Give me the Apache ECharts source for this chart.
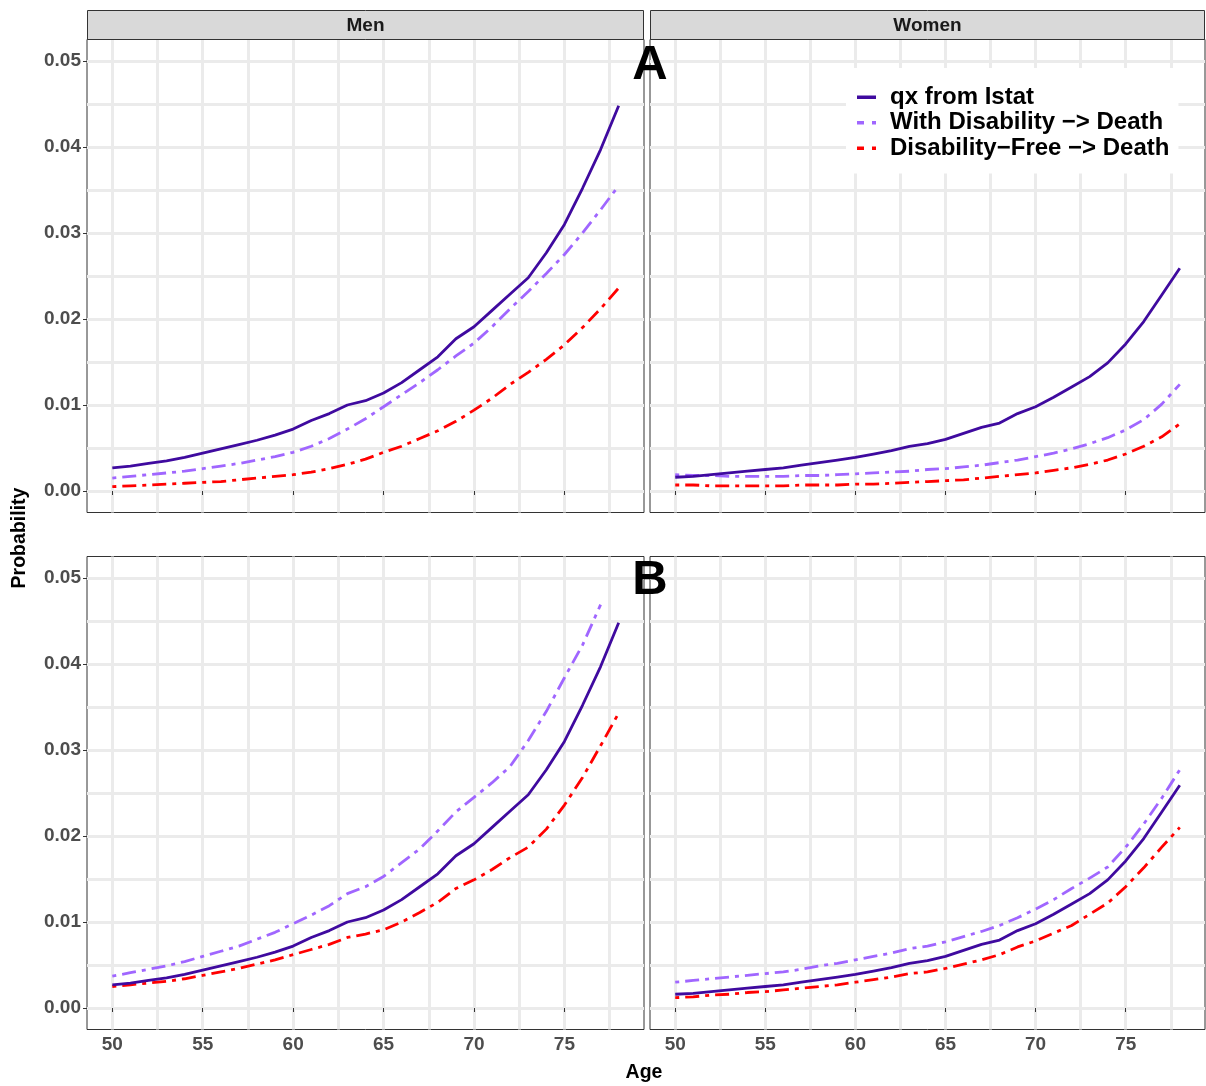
<!DOCTYPE html>
<html>
<head>
<meta charset="utf-8">
<script src="https://cdn.jsdelivr.net/npm/echarts@6/dist/echarts.min.js"></script>
<style>
  html, body { margin: 0; padding: 0; background: #ffffff; }
  #chart { width: 1206px; height: 1086px; }
</style>
</head>
<body>
<div id="chart"></div>
<script>
// Ages covered by the curves
const ages = [50, 51, 52, 53, 54, 55, 56, 57, 58, 59, 60, 61, 62, 63, 64, 65, 66, 67, 68, 69, 70, 71, 72, 73, 74, 75, 76, 77, 78];

// Istat death probabilities (same reference curve in both rows)
const qxMen = [0.0027, 0.0029, 0.0032, 0.0035, 0.0039, 0.0044, 0.0049, 0.0054, 0.0059, 0.0065, 0.0072, 0.0082, 0.0090, 0.0100, 0.0105, 0.0114, 0.0126, 0.0141, 0.0156, 0.0177, 0.0191, 0.0210, 0.0229, 0.0248, 0.0277, 0.0310, 0.0352, 0.0397, 0.0448];
const qxWomen = [0.0016, 0.0017, 0.0019, 0.0021, 0.0023, 0.0025, 0.0027, 0.0030, 0.0033, 0.0036, 0.0039, 0.0043, 0.0047, 0.0052, 0.0055, 0.0060, 0.0067, 0.0074, 0.0079, 0.0090, 0.0098, 0.0109, 0.0121, 0.0133, 0.0149, 0.0171, 0.0197, 0.0228, 0.0259];

// Row A transition probabilities
const withDisMenA = [0.0015, 0.0017, 0.0019, 0.0021, 0.0023, 0.0026, 0.0029, 0.0032, 0.0036, 0.0040, 0.0045, 0.0052, 0.0061, 0.0072, 0.0084, 0.0098, 0.0112, 0.0126, 0.0141, 0.0157, 0.0172, 0.0191, 0.0212, 0.0232, 0.0253, 0.0275, 0.0300, 0.0327, 0.0355];
const disFreeMenA = [0.0005, 0.0006, 0.0007, 0.0008, 0.0009, 0.0010, 0.0011, 0.0013, 0.0015, 0.0017, 0.0019, 0.0022, 0.0026, 0.0031, 0.0037, 0.0045, 0.0052, 0.0061, 0.0070, 0.0081, 0.0094, 0.0108, 0.0124, 0.0138, 0.0153, 0.0170, 0.0190, 0.0212, 0.0236];
const withDisWomenA = [0.0019, 0.0018, 0.0018, 0.0017, 0.0017, 0.0017, 0.0017, 0.0018, 0.0018, 0.0019, 0.0020, 0.0021, 0.0022, 0.0023, 0.0025, 0.0026, 0.0028, 0.0030, 0.0033, 0.0036, 0.0040, 0.0044, 0.0049, 0.0055, 0.0062, 0.0071, 0.0083, 0.0101, 0.0124];
const disFreeWomenA = [0.0007, 0.0007, 0.0006, 0.0006, 0.0006, 0.0006, 0.0006, 0.0007, 0.0007, 0.0007, 0.0008, 0.0008, 0.0009, 0.0010, 0.0011, 0.0012, 0.0013, 0.0015, 0.0017, 0.0019, 0.0021, 0.0024, 0.0027, 0.0031, 0.0036, 0.0043, 0.0052, 0.0063, 0.0078];

// Row B transition probabilities (men with disability at 78 falls outside the 0-0.05 limits)
const withDisMenB = [0.0037, 0.0041, 0.0045, 0.0049, 0.0054, 0.0060, 0.0066, 0.0072, 0.0080, 0.0088, 0.0098, 0.0108, 0.0119, 0.0133, 0.0141, 0.0153, 0.0169, 0.0185, 0.0206, 0.0228, 0.0245, 0.0262, 0.0281, 0.0311, 0.0345, 0.0384, 0.0422, 0.0469, null];
const disFreeMenB = [0.0025, 0.0027, 0.0029, 0.0031, 0.0034, 0.0038, 0.0042, 0.0046, 0.0051, 0.0056, 0.0062, 0.0068, 0.0074, 0.0082, 0.0086, 0.0091, 0.0100, 0.0111, 0.0123, 0.0139, 0.0149, 0.0161, 0.0175, 0.0187, 0.0208, 0.0236, 0.0268, 0.0305, 0.0343];
const withDisWomenB = [0.0030, 0.0032, 0.0034, 0.0036, 0.0038, 0.0040, 0.0042, 0.0045, 0.0049, 0.0052, 0.0056, 0.0060, 0.0064, 0.0069, 0.0072, 0.0077, 0.0083, 0.0089, 0.0096, 0.0105, 0.0115, 0.0126, 0.0139, 0.0151, 0.0164, 0.0187, 0.0214, 0.0244, 0.0277];
const disFreeWomenB = [0.0012, 0.0013, 0.0015, 0.0016, 0.0018, 0.0019, 0.0021, 0.0023, 0.0025, 0.0027, 0.0030, 0.0033, 0.0036, 0.0040, 0.0042, 0.0046, 0.0051, 0.0056, 0.0062, 0.0071, 0.0078, 0.0087, 0.0096, 0.0109, 0.0122, 0.0141, 0.0163, 0.0187, 0.0210];

// Axis ticks and grid positions
const ageTicks = [50, 55, 60, 65, 70, 75];
const ageGrid = [50, 52.5, 55, 57.5, 60, 62.5, 65, 67.5, 70, 72.5, 75, 77.5];
const probTicks = [0, 0.01, 0.02, 0.03, 0.04, 0.05];
const probGrid = [0, 0.005, 0.01, 0.015, 0.02, 0.025, 0.03, 0.035, 0.04, 0.045, 0.05];

const seriesNames = ['qx from Istat', 'With Disability \u2212> Death', 'Disability\u2212Free \u2212> Death'];
const facetNames = ['Men', 'Women'];
const rowTags = ['A', 'B'];

const FONT = '"Liberation Sans", Arial, Helvetica, sans-serif';
const COLORS = ['#3F0A9F', '#A066FF', '#FF0000'];
const DOTDASH = [4, 6, 14, 6];

// legend key glyphs (19 x 3.5 box): a solid bar, and a dash followed by a dot
const KEY_SOLID = 'path://M0,0H19V3.5H0Z';
const KEY_DOTDASH = 'path://M0,0H7V3.5H0Z M15,0H19V3.5H15Z';

// panel layout: [Men A, Women A, Men B, Women B]
const panels = [
  { left: 87,  top: 39.5,  width: 557, height: 473, xLabels: false, yLabels: true },
  { left: 650, top: 39.5,  width: 555, height: 473, xLabels: false, yLabels: false },
  { left: 87,  top: 556.5, width: 557, height: 473, xLabels: true,  yLabels: true },
  { left: 650, top: 556.5, width: 555, height: 473, xLabels: true,  yLabels: false }
];

const panelData = [
  [qxMen, withDisMenA, disFreeMenA],
  [qxWomen, withDisWomenA, disFreeWomenA],
  [qxMen, withDisMenB, disFreeMenB],
  [qxWomen, withDisWomenB, disFreeWomenB]
];

const tickLabelStyle = { fontFamily: FONT, fontWeight: 'bold', fontSize: 19, color: '#4D4D4D' };
const gridLineStyle = { color: '#EBEBEB', width: 3, type: 'solid' };

const grid = [], xAxis = [], yAxis = [], series = [];

panels.forEach((p, i) => {
  grid.push({
    left: p.left, top: p.top, width: p.width, height: p.height,
    show: true, backgroundColor: '#FFFFFF', borderColor: '#333333', borderWidth: 1
  });
  // labelled axes
  xAxis.push({
    type: 'value', gridIndex: i, min: 48.6, max: 79.4, position: 'bottom',
    axisLine: { show: false },
    axisTick: { show: true, customValues: ageTicks, length: 4, lineStyle: { color: '#333333', width: 1 } },
    axisLabel: Object.assign({ show: p.xLabels, customValues: ageTicks, margin: 6 }, tickLabelStyle),
    splitLine: { show: false }
  });
  // axis that only carries the panel grid lines
  xAxis.push({
    type: 'value', gridIndex: i, min: 48.6, max: 79.4, position: 'top',
    axisLine: { show: false },
    axisTick: { show: false, customValues: ageGrid },
    axisLabel: { show: false },
    splitLine: { show: true, lineStyle: gridLineStyle }
  });
  yAxis.push({
    type: 'value', gridIndex: i, min: -0.0025, max: 0.0525, position: 'left',
    axisLine: { show: false },
    axisTick: { show: p.yLabels, customValues: probTicks, length: 4, lineStyle: { color: '#333333', width: 1 } },
    axisLabel: Object.assign({ show: p.yLabels, customValues: probTicks, margin: 6, formatter: v => v.toFixed(2) }, tickLabelStyle),
    splitLine: { show: false }
  });
  yAxis.push({
    type: 'value', gridIndex: i, min: -0.0025, max: 0.0525, position: 'right',
    axisLine: { show: false },
    axisTick: { show: false, customValues: probGrid },
    axisLabel: { show: false },
    splitLine: { show: true, lineStyle: gridLineStyle }
  });

  panelData[i].forEach((values, k) => {
    series.push({
      name: seriesNames[k],
      type: 'line',
      xAxisIndex: 2 * i,
      yAxisIndex: 2 * i,
      data: ages.map((a, j) => [a, values[j]]),
      symbol: 'none',
      showSymbol: false,
      connectNulls: false,
      clip: true,
      z: k === 0 ? 6 : 3 + k,
      itemStyle: { color: COLORS[k] },
      lineStyle: { color: COLORS[k], width: 2.8, type: k === 0 ? 'solid' : DOTDASH, cap: 'butt', join: 'round' },
      emphasis: { disabled: true },
      silent: true
    });
  });
});

// strips, panel tags and shared axis titles
const graphic = [];
[[87, 557], [650, 555]].forEach(([x, w], i) => {
  graphic.push({
    type: 'rect', z: 10,
    shape: { x: x + 0.5, y: 10.5, width: w - 1, height: 29 },
    style: { fill: '#D9D9D9', stroke: '#333333', lineWidth: 1 }
  });
  graphic.push({
    type: 'text', z: 11,
    x: x + w / 2, y: 25.5,
    style: { text: facetNames[i], fontFamily: FONT, fontWeight: 'bold', fontSize: 19, fill: '#1A1A1A', align: 'center', verticalAlign: 'middle' }
  });
});
[65, 580].forEach((y, i) => {
  graphic.push({
    type: 'text', z: 20,
    x: 650, y: y,
    style: { text: rowTags[i], fontFamily: FONT, fontWeight: 'bold', fontSize: 49, fill: '#000000', align: 'center', verticalAlign: 'middle' }
  });
});
graphic.push({
  type: 'text', z: 11, x: 20, y: 538, rotation: Math.PI / 2,
  style: { text: 'Probability', fontFamily: FONT, fontWeight: 'bold', fontSize: 19.5, fill: '#000000', align: 'center', verticalAlign: 'middle' }
});
graphic.push({
  type: 'text', z: 11, x: 644, y: 1073,
  style: { text: 'Age', fontFamily: FONT, fontWeight: 'bold', fontSize: 19.5, fill: '#000000', align: 'center', verticalAlign: 'middle' }
});

const chart = echarts.init(document.getElementById('chart'), null, { renderer: 'canvas' });
chart.setOption({
  animation: false,
  backgroundColor: '#FFFFFF',
  grid, xAxis, yAxis, series, graphic,
  legend: {
    orient: 'vertical',
    left: 846, top: 68,
    backgroundColor: '#FFFFFF',
    padding: [17, 9, 13, 11],
    itemWidth: 19, itemHeight: 3.5, itemGap: 1,
    selectedMode: false,
    itemStyle: { borderWidth: 0 },
    textStyle: { fontFamily: FONT, fontWeight: 'bold', fontSize: 24, color: '#000000', lineHeight: 24.5, padding: [0, 0, 0, 9] },
    data: [
      { name: seriesNames[0], icon: KEY_SOLID },
      { name: seriesNames[1], icon: KEY_DOTDASH },
      { name: seriesNames[2], icon: KEY_DOTDASH }
    ]
  }
});
</script>
</body>
</html>
